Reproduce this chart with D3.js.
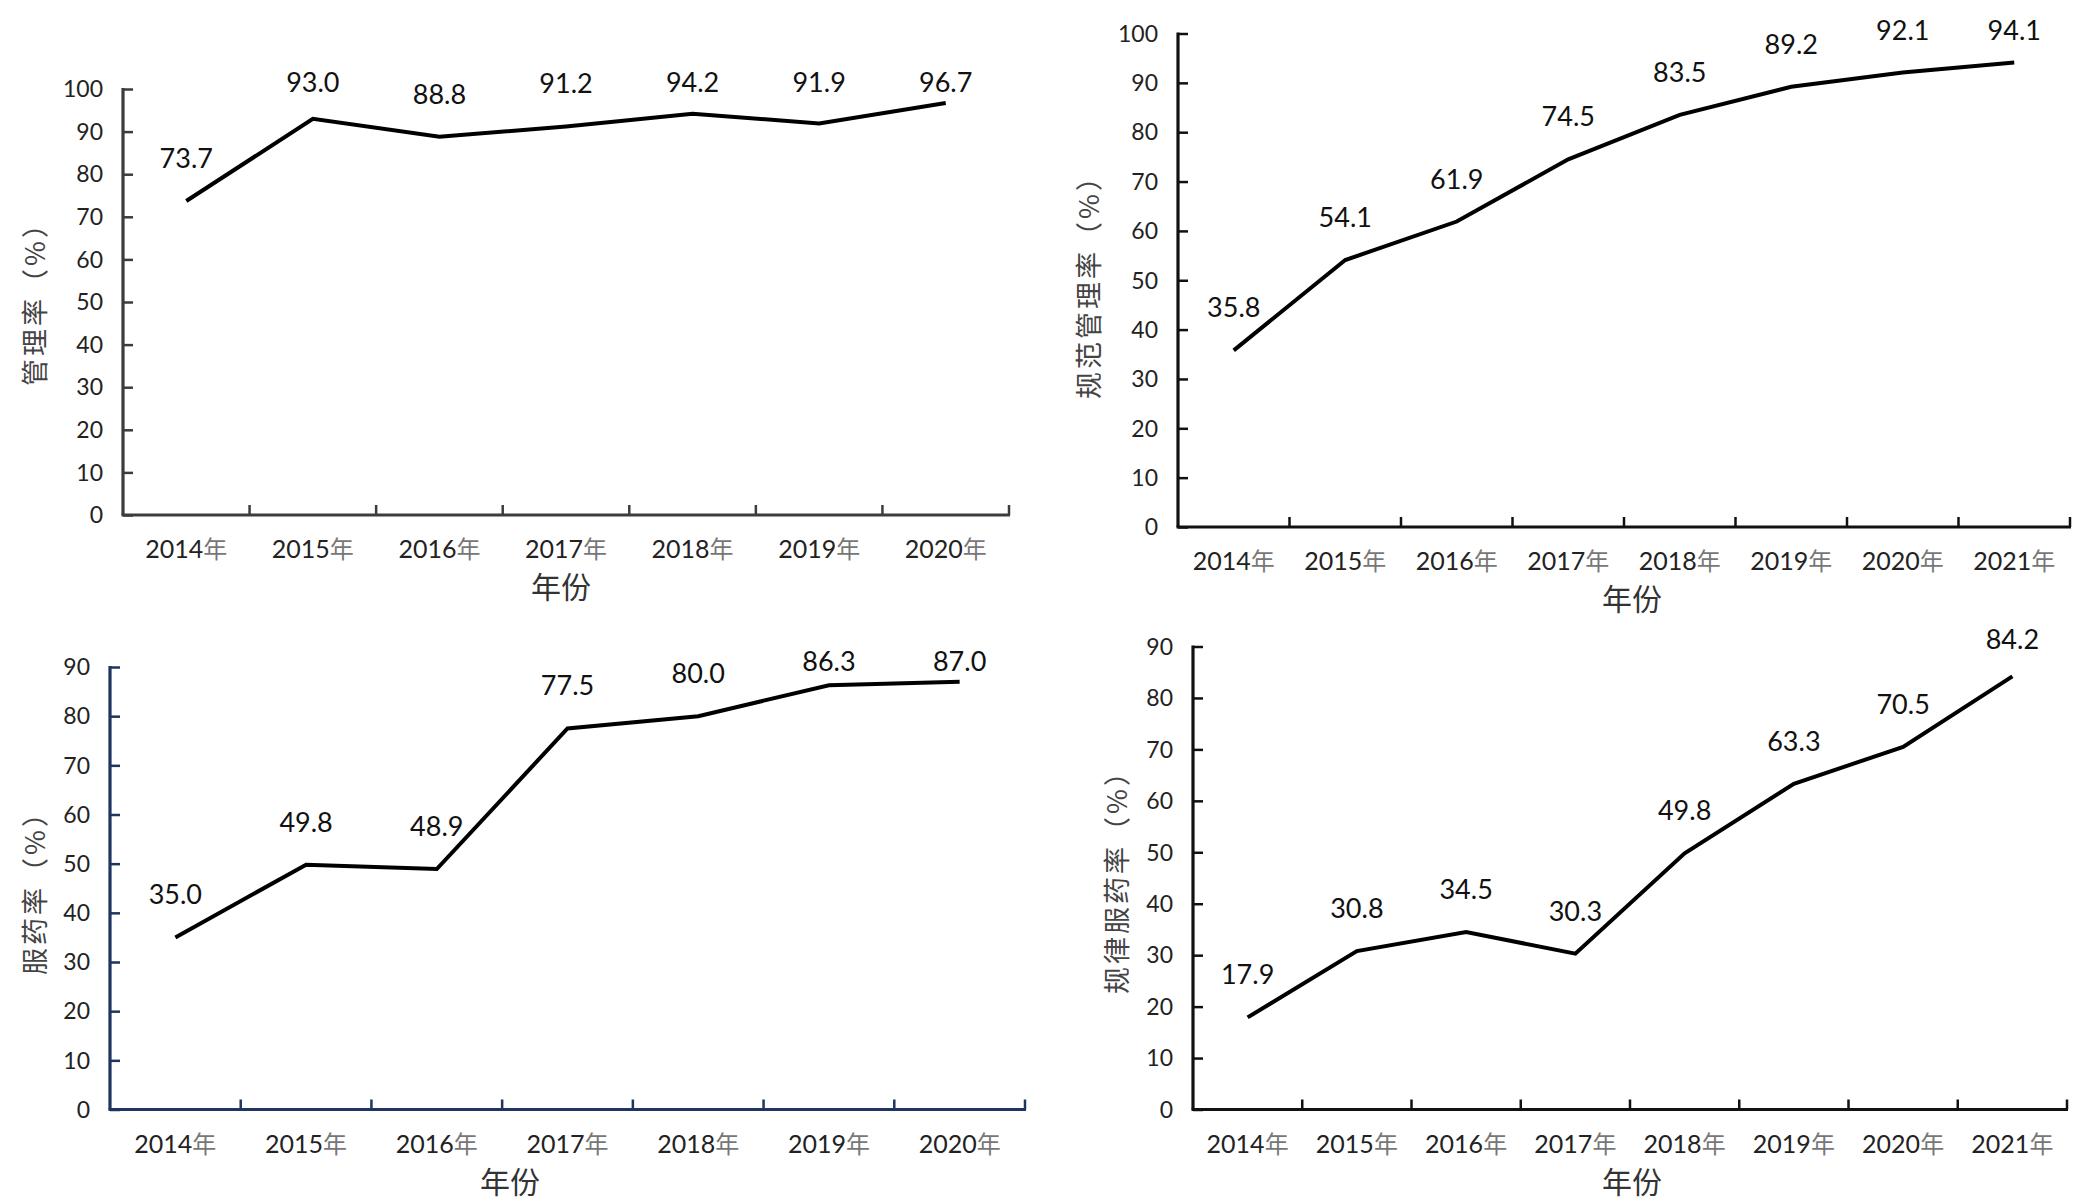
<!DOCTYPE html>
<html>
<head>
<meta charset="utf-8">
<script src="https://cdn.jsdelivr.net/npm/d3@7"></script>
<style>
  html, body { margin: 0; padding: 0; background: #fff; }
  svg { display: block; }
</style>
</head>
<body>
<svg id="chart" width="2074" height="1204"></svg>
<script>
// ---- data ----
const years7 = ["2014", "2015", "2016", "2017", "2018", "2019", "2020"];
const years8 = ["2014", "2015", "2016", "2017", "2018", "2019", "2020", "2021"];
const managementRate = [73.7, 93.0, 88.8, 91.2, 94.2, 91.9, 96.7];
const standardManagementRate = [35.8, 54.1, 61.9, 74.5, 83.5, 89.2, 92.1, 94.1];
const medicationRate = [35.0, 49.8, 48.9, 77.5, 80.0, 86.3, 87.0];
const regularMedicationRate = [17.9, 30.8, 34.5, 30.3, 49.8, 63.3, 70.5, 84.2];
const ticks100 = [0, 10, 20, 30, 40, 50, 60, 70, 80, 90, 100];
const ticks90 = [0, 10, 20, 30, 40, 50, 60, 70, 80, 90];
const yearSuffix = "年";
const xTitle = "年份";

// ---- layout ----
const panels = [
  { cats: years7, vals: managementRate, ticks: ticks100, max: 100, title: "管理率（%）",
    x0: 123, x1: 1009, yTop: 89, yBot: 515, axisColor: "#3c3c3c",
    yTitleX: 33, yTitleY: 297, xTitleX: 561, labelMin: 92 },
  { cats: years8, vals: standardManagementRate, ticks: ticks100, max: 100, title: "规范管理率（%）",
    x0: 1178, x1: 2070, yTop: 33.5, yBot: 527, axisColor: "#111",
    yTitleX: 1087, yTitleY: 280, xTitleX: 1632, labelMin: 40 },
  { cats: years7, vals: medicationRate, ticks: ticks90, max: 90, title: "服药率（%）",
    x0: 110, x1: 1025, yTop: 667, yBot: 1109.5, axisColor: "#1f3560",
    yTitleX: 33, yTitleY: 886, xTitleX: 510, labelMin: 671 },
  { cats: years8, vals: regularMedicationRate, ticks: ticks90, max: 90, title: "规律服药率（%）",
    x0: 1193, x1: 2067, yTop: 646.5, yBot: 1109.5, axisColor: "#111",
    yTitleX: 1115, yTitleY: 875, xTitleX: 1632, labelMin: 649 }
];

const numFont = "Lato, 'Open Sans', sans-serif";
const cjkFont = "'Noto Sans CJK SC', sans-serif";
const svg = d3.select("#chart");

panels.forEach(p => {
  const g = svg.append("g");
  const x = d3.scaleBand().domain(p.cats).range([p.x0, p.x1]).padding(0);
  const y = d3.scaleLinear().domain([0, p.max]).range([p.yBot, p.yTop]);
  const bw = x.bandwidth();

  // y axis (ticks inside)
  const yAxis = d3.axisRight(y).tickValues(p.ticks).tickSize(10).tickFormat("");
  const ya = g.append("g").attr("transform", `translate(${p.x0},0)`).call(yAxis);
  ya.select(".domain").remove();
  ya.selectAll(".tick line").attr("stroke", p.axisColor).attr("stroke-width", 2.5);
  g.append("line").attr("x1", p.x0).attr("x2", p.x0).attr("y1", p.yTop - 1).attr("y2", p.yBot)
    .attr("stroke", p.axisColor).attr("stroke-width", 3.2);

  // y tick labels
  g.selectAll(".ylab").data(p.ticks).enter().append("text")
    .attr("x", p.x0 - 20).attr("y", d => y(d)).attr("dy", "0.36em")
    .attr("text-anchor", "end").attr("font-family", numFont).attr("font-size", 23)
    .attr("fill", "#222").text(d => d);

  // x axis: ticks at band boundaries, pointing up
  g.selectAll(".xt").data(p.cats).enter().append("line")
    .attr("x1", d => x(d) + bw).attr("x2", d => x(d) + bw)
    .attr("y1", p.yBot).attr("y2", p.yBot - 10)
    .attr("stroke", p.axisColor).attr("stroke-width", 2.5);
  g.append("line").attr("x1", p.x0 - 1.5).attr("x2", p.x1 + 1).attr("y1", p.yBot).attr("y2", p.yBot)
    .attr("stroke", p.axisColor).attr("stroke-width", 3.2);

  // x tick labels
  const xl = g.selectAll(".xlab").data(p.cats).enter().append("text")
    .attr("x", d => x(d) + bw / 2).attr("y", p.yBot + 43)
    .attr("text-anchor", "middle").attr("font-size", 25);
  xl.append("tspan").attr("font-family", numFont).attr("fill", "#222").text(d => d);
  xl.append("tspan").attr("font-family", cjkFont).attr("fill", "#777").attr("font-size", 24).text(yearSuffix);

  // axis titles
  g.append("text").attr("x", p.xTitleX).attr("y", p.yBot + 70).attr("dominant-baseline", "central")
    .attr("text-anchor", "middle").attr("font-family", cjkFont).attr("font-size", 30)
    .attr("fill", "#333").text(xTitle);
  g.append("text").attr("transform", `translate(${p.yTitleX},${p.yTitleY}) rotate(-90)`)
    .attr("dominant-baseline", "central").attr("text-anchor", "middle")
    .attr("font-family", cjkFont).attr("font-size", 27).attr("letter-spacing", 3)
    .attr("fill", "#444").text(p.title);

  // line
  const pts = p.cats.map((c, i) => [x(c) + bw / 2, y(p.vals[i])]);
  g.append("path").attr("d", d3.line()(pts)).attr("fill", "none")
    .attr("stroke", "#000").attr("stroke-width", 4).attr("stroke-linejoin", "miter");

  // data labels
  g.selectAll(".dl").data(p.vals).enter().append("text")
    .attr("x", (d, i) => x(p.cats[i]) + bw / 2)
    .attr("y", d => Math.max(y(d) - 33, p.labelMin))
    .attr("text-anchor", "middle").attr("font-family", numFont).attr("font-size", 27)
    .attr("fill", "#111").text(d => d.toFixed(1));
});
</script>
</body>
</html>
